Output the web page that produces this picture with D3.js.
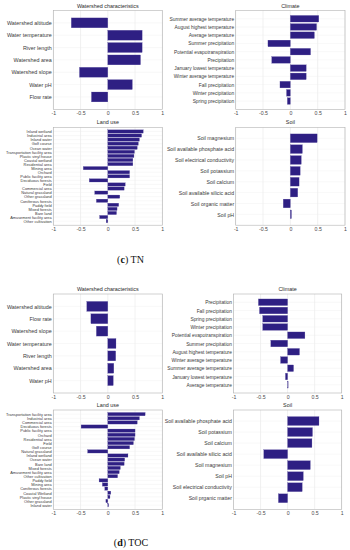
<!DOCTYPE html>
<html>
<head>
<meta charset="utf-8">
<script src="https://cdn.jsdelivr.net/npm/d3@7/dist/d3.min.js"></script>
<style>
  html, body { margin: 0; padding: 0; background: #fff; }
  svg { display: block; }
</style>
</head>
<body>
<svg id="chart" width="350" height="550"></svg>
<script>
// ---------- DATA ----------
const xTickValues = [-1, -0.5, 0, 0.5, 1];
const xTickLabels = ["-1", "-0.5", "0", "0.5", "1"];

// (c) TN
const tnWatershedCats = ["Watershed altitude", "Water temperature", "River length", "Watershed area", "Watershed slope", "Water pH", "Flow rate"];
const tnWatershedVals = [-0.67, 0.63, 0.63, 0.60, -0.52, 0.45, -0.30];

const tnClimateCats = ["Summer average temperature", "August highest temperature", "Average temperature", "Summer precipitation", "Potential evapotranspiration", "Precipitation", "January lowest temperature", "Winter average temperature", "Fall precipitation", "Winter precipitation", "Spring precipitation"];
const tnClimateVals = [0.52, 0.48, 0.44, -0.41, 0.37, -0.34, 0.29, 0.29, -0.19, -0.07, -0.055];

const tnLandCats = ["Inland wetland", "Industrial area", "Inland water", "Golf course", "Ocean water", "Transportation facility area", "Plastic vinyl house", "Coastal wetland", "Residential area", "Mining area", "Orchard", "Public facility area", "Deciduous forests", "Field", "Commercial area", "Natural grassland", "Other grassland", "Coniferous forests", "Paddy field", "Mixed forests", "Bare land", "Amusement facility area", "Other cultivation"];
const tnLandVals = [0.65, 0.62, 0.58, 0.56, 0.54, 0.49, 0.48, 0.46, 0.46, -0.45, 0.40, 0.40, -0.34, 0.32, 0.30, -0.24, 0.22, -0.21, 0.20, 0.17, 0.16, -0.15, -0.03];

const tnSoilCats = ["Soil magnesium", "Soil available phosphate acid", "Soil electrical conductivity", "Soil potassium", "Soil calcium", "Soil available silicic acid", "Soil organic matter", "Soil pH"];
const tnSoilVals = [0.49, 0.22, 0.20, 0.18, 0.16, 0.135, -0.13, 0.02];

// (d) TOC
const tocWatershedCats = ["Watershed altitude", "Flow rate", "Watershed slope", "Water temperature", "River length", "Watershed area", "Water pH"];
const tocWatershedVals = [-0.385, -0.31, -0.21, 0.15, 0.145, 0.11, 0.10];

const tocClimateCats = ["Precipitation", "Fall precipitation", "Spring precipitation", "Winter precipitation", "Potential evapotranspiration", "Summer precipitation", "August highest temperature", "Winter average temperature", "Summer average temperature", "January lowest temperature", "Average temperature"];
const tocClimateVals = [-0.54, -0.52, -0.46, -0.46, 0.32, -0.31, 0.22, -0.13, 0.11, -0.04, 0.01];

const tocLandCats = ["Transportation facility area", "Industrial area", "Commercial area", "Deciduous forests", "Public facility area", "Orchard", "Residential area", "Field", "Golf course", "Natural grassland", "Inland wetland", "Ocean water", "Bare land", "Mixed forests", "Amusement facility area", "Other cultivation", "Paddy field", "Mining area", "Coniferous forests", "Coastal Wetland", "Plastic vinyl house", "Other grassland", "Inland water"];
const tocLandVals = [0.685, 0.58, 0.54, -0.49, 0.50, 0.50, 0.49, 0.47, 0.40, -0.37, 0.37, 0.31, 0.30, 0.23, 0.21, 0.18, -0.16, -0.10, -0.055, 0.055, 0.04, -0.035, 0.015];

const tocSoilCats = ["Soil available phosphate acid", "Soil potassium", "Soil calcium", "Soil available silicic acid", "Soil magnesium", "Soil pH", "Soil electrical conductivity", "Soil prganic matter"];
const tocSoilVals = [0.58, 0.46, 0.45, -0.44, 0.42, 0.29, 0.27, -0.17];

// ---------- DRAWING ----------
const svg = d3.select("#chart");
const barColor = "#2e1f83";
const sans = "'Liberation Sans', Arial, Helvetica, sans-serif";
const serif = "'Liberation Serif', 'Times New Roman', serif";

function drawPanel(title, cats, vals, box, labelSize) {
  const g = svg.append("g");
  const x = d3.scaleLinear().domain([-1, 1]).range([box.x0, box.x1]);
  const y = d3.scalePoint().domain(cats).range([box.y0, box.y1]).padding(1);
  const bh = y.step() * 0.8;

  // grid
  g.selectAll("line.vg").data(xTickValues).join("line")
    .attr("x1", d => x(d)).attr("x2", d => x(d))
    .attr("y1", box.y0).attr("y2", box.y1)
    .attr("stroke", "#e3e3e3").attr("stroke-width", 0.5);
  g.selectAll("line.hg").data(cats).join("line")
    .attr("x1", box.x0).attr("x2", box.x1)
    .attr("y1", d => y(d)).attr("y2", d => y(d))
    .attr("stroke", "#ededed").attr("stroke-width", 0.4);

  // bars
  g.selectAll("rect.bar").data(cats).join("rect")
    .attr("x", (d, i) => x(Math.min(0, vals[i])))
    .attr("width", (d, i) => Math.abs(x(vals[i]) - x(0)))
    .attr("y", d => y(d) - bh / 2)
    .attr("height", bh)
    .attr("fill", barColor)
    .attr("stroke", "#5a4ea0").attr("stroke-width", 0.25);

  // box
  g.append("rect")
    .attr("x", box.x0).attr("y", box.y0)
    .attr("width", box.x1 - box.x0).attr("height", box.y1 - box.y0)
    .attr("fill", "none").attr("stroke", "#b3b3b3").attr("stroke-width", 0.6);

  // x axis
  const ax = g.append("g").attr("transform", `translate(0,${box.y1})`)
    .call(d3.axisBottom(x).tickValues(xTickValues)
      .tickFormat((d, i) => xTickLabels[i]).tickSize(0).tickPadding(2.2));
  ax.select(".domain").remove();
  ax.selectAll("text").attr("font-size", 5.2).attr("fill", "#4a4a4a")
    .style("font-family", sans);

  // y axis
  const ay = g.append("g").attr("transform", `translate(${box.x0},0)`)
    .call(d3.axisLeft(y).tickSize(0).tickPadding(1.6));
  ay.select(".domain").remove();
  ay.selectAll("text").attr("font-size", labelSize).attr("fill", "#3a3a3a")
    .style("font-family", sans);

  // title
  g.append("text")
    .attr("x", (box.x0 + box.x1) / 2).attr("y", box.y0 - 3)
    .attr("text-anchor", "middle").attr("font-size", 5.4).attr("fill", "#2a2a2a")
    .style("font-family", sans)
    .text(title);
}

// (c) TN
drawPanel("Watershed characteristics", tnWatershedCats, tnWatershedVals, {x0: 53.3, x1: 162.3, y0: 10.5, y1: 109.3}, 5.4);
drawPanel("Climate", tnClimateCats, tnClimateVals, {x0: 235.7, x1: 345, y0: 10.5, y1: 109.3}, 4.85);
drawPanel("Land use", tnLandCats, tnLandVals, {x0: 53.3, x1: 162.3, y0: 127.4, y1: 225.2}, 3.9);
drawPanel("Soil", tnSoilCats, tnSoilVals, {x0: 235.7, x1: 345, y0: 127.4, y1: 225.2}, 5.2);

// (d) TOC
drawPanel("Watershed characteristics", tocWatershedCats, tocWatershedVals, {x0: 53.3, x1: 162.3, y0: 294, y1: 393}, 5.4);
drawPanel("Climate", tocClimateCats, tocClimateVals, {x0: 233.5, x1: 341.7, y0: 294, y1: 393}, 4.85);
drawPanel("Land use", tocLandCats, tocLandVals, {x0: 53.3, x1: 162.3, y0: 410, y1: 509.3}, 3.9);
drawPanel("Soil", tocSoilCats, tocSoilVals, {x0: 233.5, x1: 341.7, y0: 410, y1: 509.3}, 5.2);

// captions
function caption(letter, rest, cx, cy) {
  const t = svg.append("text")
    .attr("x", cx).attr("y", cy).attr("text-anchor", "middle")
    .style("font-family", serif)
    .attr("font-size", 10).attr("fill", "#111");
  t.append("tspan").text("(");
  t.append("tspan").attr("font-weight", "bold").text(letter);
  t.append("tspan").text(") " + rest);
}
caption("c", "TN", 130.5, 263);
caption("d", "TOC", 131, 546);
</script>
</body>
</html>
